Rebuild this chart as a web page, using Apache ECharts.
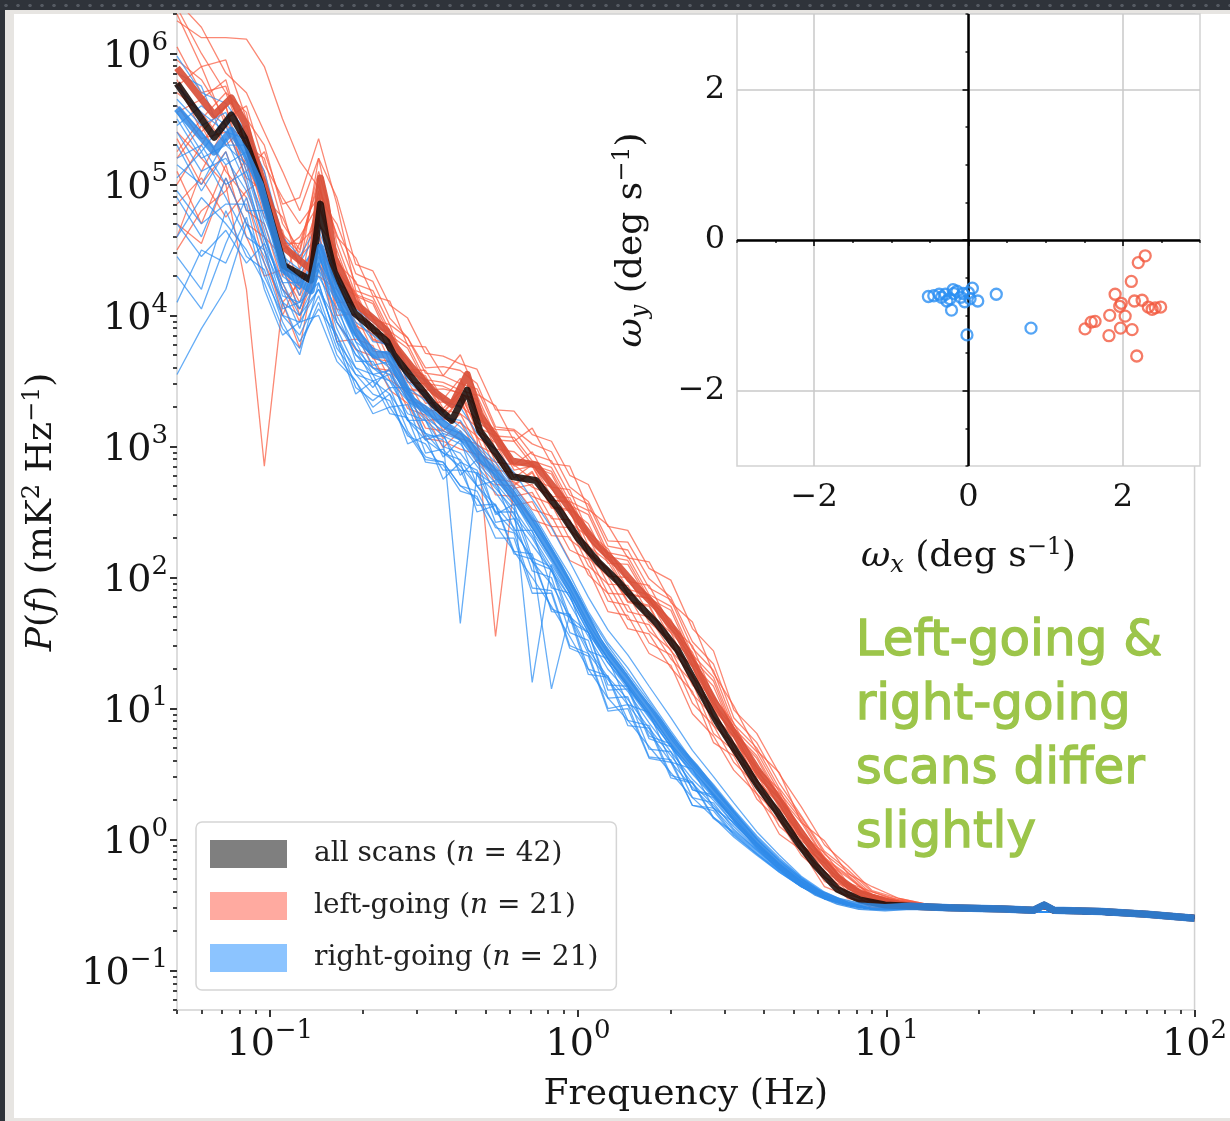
<!DOCTYPE html>
<html>
<head>
<meta charset="utf-8">
<script src="https://cdn.jsdelivr.net/npm/echarts@6/dist/echarts.min.js"></script>
<style>
html,body{margin:0;padding:0;width:1230px;height:1121px;overflow:hidden;background:#2f333a;}
#topband{position:absolute;left:0;top:0;width:1230px;height:11px;background-color:#2f333a;background-image:radial-gradient(circle,#555a62 1.4px,transparent 2px);background-size:12px 11px;}
#frame{position:absolute;left:5px;top:10px;width:1225px;height:1111px;background:#e7e5e2;}
#paper{position:absolute;left:14px;top:14px;width:1216px;height:1104px;background:#ffffff;}
#chart{position:absolute;left:0;top:0;width:1230px;height:1121px;}
</style>
</head>
<body>
<div id="topband"></div>
<div id="frame"></div>
<div id="paper"></div>
<div id="chart"></div>
<script>
// ---------------- DATA ----------------
// Frequencies (Hz) at which the individual scan spectra are sampled
const FREQ_SCAN = [0.05,0.06,0.072,0.084,0.096,0.11,0.125,0.144,0.165,0.19,0.216,0.245,0.28,0.32,0.365,0.415,0.47,0.54,0.62,0.71,0.82,0.94,1.08,1.25,1.45,1.7,2.0,2.35,2.75,3.2,3.8,4.5,5.3,6.3,7.5,9,11,14,25,100];

// Individual left-going scans: log10 P(f) [mK^2/Hz]
const LEFT_SCANS_LOG = [
[6.25,6.12,6.12,6.11,5.90,5.50,5.18,4.98,4.62, 4.24,4.19,3.93,3.83,3.56,3.54,3.48,3.44,3.13,3.12,2.94,2.89,2.63,2.56,2.24,2.21,1.92,1.83,1.46,1.29,0.88,0.70,0.39,0.17,-0.11,-0.25,-0.42,-0.46,-0.50,-0.52,-0.58],
[6.35,6.00,5.70,5.30,4.80,4.62,4.48,5.05,4.30, 4.18,3.90,3.88,3.59,3.54,3.29,3.42,3.18,3.11,2.85,2.88,2.62,2.61,2.32,2.18,1.91,1.87,1.61,1.43,1.04,0.85,0.52,0.35,0.04,-0.13,-0.34,-0.42,-0.48,-0.50,-0.52,-0.58],
[4.60,5.10,5.45,5.05,4.95,4.30,4.55,4.70,4.50, 4.11,3.82,3.78,3.44,3.43,3.21,3.37,3.07,2.98,2.71,2.81,2.54,2.52,2.19,2.07,1.82,1.79,1.48,1.33,0.94,0.79,0.45,0.28,-0.04,-0.18,-0.38,-0.43,-0.49,-0.50,-0.52,-0.58],
[5.40,5.20,5.00,4.20,2.85,4.10,4.25,4.60,4.05, 3.99,3.93,3.65,3.50,3.27,3.28,3.25,3.15,2.82,2.80,2.69,2.63,2.36,2.25,1.95,1.94,1.66,1.52,1.18,1.01,0.69,0.50,0.19,0.01,-0.25,-0.35,-0.47,-0.49,-0.50,-0.52,-0.58],
[6.30,5.90,5.95,5.50,5.30,4.80,4.35,5.20,4.55, 4.16,4.11,3.85,3.75,3.48,3.46,3.40,3.36,3.05,3.04,2.86,2.81,2.55,2.48,2.16,2.13,1.84,1.75,1.38,1.21,0.82,0.64,0.33,0.13,-0.15,-0.28,-0.44,-0.47,-0.50,-0.52,-0.58],
[4.50,4.80,4.95,5.20,4.60,4.45,4.00,4.40,4.15, 3.95,3.67,3.65,3.36,3.31,3.06,3.19,2.95,2.88,2.62,2.65,2.39,2.38,2.09,1.95,1.68,1.64,1.38,1.20,0.81,0.68,0.35,0.18,-0.08,-0.24,-0.42,-0.47,-0.50,-0.50,-0.52,-0.58],
[5.70,5.55,5.30,5.45,5.00,4.50,4.60,4.85,4.35, 4.16,3.87,3.83,3.49,3.48,3.26,3.42,3.12,3.03,2.76,2.86,2.59,2.57,2.24,2.12,1.87,1.84,1.53,1.38,0.99,0.82,0.48,0.31,-0.01,-0.15,-0.36,-0.42,-0.48,-0.50,-0.52,-0.58],
[5.95,5.80,5.50,5.60,5.15,4.90,4.70,4.90,4.70, 4.32,4.26,3.98,3.83,3.60,3.61,3.58,3.48,3.15,3.13,3.02,2.96,2.69,2.58,2.28,2.27,1.99,1.85,1.51,1.34,0.93,0.74,0.43,0.18,-0.09,-0.23,-0.40,-0.46,-0.50,-0.52,-0.58],
[5.20,5.45,5.10,4.90,4.40,4.10,3.75,4.50,3.80, 3.82,3.77,3.51,3.41,3.14,3.12,3.06,3.02,2.71,2.70,2.52,2.47,2.21,2.14,1.82,1.79,1.50,1.41,1.04,0.87,0.59,0.41,0.10,-0.04,-0.32,-0.40,-0.50,-0.50,-0.50,-0.52,-0.58],
[5.55,5.65,5.80,5.25,4.75,4.65,4.20,4.95,4.25, 4.15,3.87,3.85,3.56,3.51,3.26,3.39,3.15,3.08,2.82,2.85,2.59,2.58,2.29,2.15,1.88,1.84,1.58,1.40,1.01,0.82,0.49,0.32,0.02,-0.14,-0.35,-0.43,-0.48,-0.50,-0.52,-0.58],
[6.05,5.70,5.75,5.30,5.20,4.70,4.50,5.10,4.60, 4.44,4.15,4.11,3.77,3.76,3.54,3.70,3.40,3.31,3.04,3.14,2.87,2.85,2.52,2.40,2.15,2.12,1.81,1.66,1.27,1.02,0.68,0.51,0.13,-0.01,-0.26,-0.36,-0.45,-0.50,-0.52,-0.58],
[5.00,5.30,5.60,5.00,4.50,4.00,4.30,4.30,4.20, 3.92,3.86,3.58,3.43,3.20,3.21,3.18,3.08,2.75,2.73,2.62,2.56,2.29,2.18,1.88,1.87,1.59,1.45,1.11,0.94,0.65,0.46,0.15,-0.03,-0.29,-0.37,-0.48,-0.50,-0.50,-0.52,-0.58],
[5.80,5.40,5.60,5.10,5.25,4.85,4.90,5.35,4.85, 4.19,4.14,3.88,3.78,3.51,3.49,3.43,3.39,3.08,3.07,2.89,2.84,2.58,2.51,2.19,2.16,1.87,1.78,1.41,1.24,0.85,0.67,0.36,0.15,-0.14,-0.27,-0.43,-0.47,-0.50,-0.52,-0.58],
[5.35,5.00,5.25,4.80,4.70,4.25,3.95,4.65,4.00, 4.01,3.73,3.71,3.42,3.37,3.12,3.25,3.01,2.94,2.68,2.71,2.45,2.44,2.15,2.01,1.74,1.70,1.44,1.26,0.87,0.73,0.40,0.23,-0.05,-0.21,-0.40,-0.45,-0.49,-0.50,-0.52,-0.58],
[5.60,5.35,5.40,5.15,4.85,4.40,4.15,4.75,4.10, 4.10,3.81,3.77,3.43,3.42,3.20,3.36,3.06,1.55,2.70,2.80,2.53,2.51,2.18,2.06,1.81,1.78,1.47,1.32,0.93,0.78,0.44,0.27,-0.04,-0.18,-0.38,-0.43,-0.49,-0.50,-0.52,-0.58],
[4.85,5.05,4.75,4.95,5.05,4.60,4.40,4.85,4.45, 4.15,4.09,3.81,3.66,3.43,3.44,3.41,3.31,2.98,2.96,2.85,2.79,2.52,2.41,2.11,2.10,1.82,1.68,1.34,1.17,0.81,0.62,0.31,0.09,-0.17,-0.29,-0.43,-0.47,-0.50,-0.52,-0.58],
[6.40,6.20,5.85,5.70,5.40,5.10,4.80,5.20,4.90, 4.39,4.34,4.08,3.98,3.71,3.69,3.63,3.59,3.28,3.27,3.09,3.04,2.78,2.71,2.39,2.36,2.07,1.98,1.61,1.44,0.99,0.81,0.50,0.25,-0.04,-0.20,-0.39,-0.45,-0.50,-0.52,-0.58],
[5.10,4.70,5.15,4.60,4.30,4.35,4.10,4.55,4.30, 3.88,3.60,3.58,3.29,3.24,2.99,3.12,2.88,2.81,2.55,2.58,2.32,2.31,2.02,1.88,1.61,1.57,1.31,1.13,0.74,0.64,0.31,0.14,-0.12,-0.28,-0.45,-0.48,-0.50,-0.50,-0.52,-0.58],
[5.75,5.90,5.45,5.35,5.10,4.55,4.55,5.00,4.40, 4.26,3.97,3.93,3.59,3.58,3.36,3.52,3.22,3.13,2.86,2.96,2.69,2.67,2.34,2.22,1.97,1.94,1.63,1.48,1.09,0.89,0.55,0.38,0.04,-0.10,-0.33,-0.40,-0.47,-0.50,-0.52,-0.58],
[5.25,5.50,5.70,5.55,4.90,4.75,4.45,4.60,4.20, 4.05,3.99,3.71,3.56,3.33,3.34,3.31,3.21,2.88,2.86,2.75,2.69,2.42,2.31,2.01,2.00,1.72,1.58,1.24,1.07,0.74,0.55,0.24,0.04,-0.22,-0.33,-0.45,-0.48,-0.50,-0.52,-0.58],
[4.70,4.55,5.05,4.70,4.60,4.20,4.05,4.40,3.95, 3.74,3.69,3.43,3.33,3.06,3.04,2.98,2.94,2.63,2.62,2.44,2.39,2.13,2.06,1.74,1.71,1.42,1.33,0.96,0.79,0.53,0.35,0.04,-0.08,-0.36,-0.43,-0.52,-0.51,-0.50,-0.52,-0.58]
];

// Individual right-going scans: log10 P(f) [mK^2/Hz]
const RIGHT_SCANS_LOG = [
[3.55,3.90,4.20,4.70,4.45,4.10,4.00,4.20,3.95,3.70, 3.55,3.50,3.25,3.20,3.00,2.95,2.78,2.65,2.45,2.25, 2.05,1.80,1.55,1.30,1.13,0.89,0.67,0.46,0.30,0.12, -0.06,-0.21,-0.34,-0.44,-0.50,-0.53,-0.53,-0.53,-0.54,-0.60],
[5.98,5.70,5.62,5.40,5.10,4.60,4.45,4.70,4.35,4.05, 3.95,3.85,3.60,3.50,3.35,3.30,3.10,2.98,2.80,2.60, 2.38,2.12,1.85,1.60,1.41,1.17,0.93,0.68,0.48,0.28, 0.06,-0.12,-0.28,-0.40,-0.48,-0.53,-0.53,-0.53,-0.54,-0.60],
[4.30,4.05,4.55,4.90,4.50,4.20,3.90,4.35,3.90,3.60, 3.45,3.60,3.20,3.10,2.95,2.85,2.70,2.55,2.38,2.12, 1.95,1.70,1.42,1.22,1.03,0.82,0.59,0.40,0.24,0.07, -0.08,-0.23,-0.35,-0.45,-0.50,-0.53,-0.53,-0.53,-0.54,-0.60],
[5.40,5.10,5.20,4.95,4.60,4.25,4.00,4.30,4.05,3.75, 3.50,3.55,3.36,3.05,3.10,2.78,2.90,2.48,2.56,2.15, 2.08,1.70,1.58,1.18,1.17,0.79,0.73,0.38,0.34,0.14, -0.04,-0.20,-0.33,-0.43,-0.50,-0.53,-0.53,-0.53,-0.54,-0.60],
[5.20,5.30,5.00,5.10,4.65,4.15,4.10,4.40,4.00,3.70, 3.60,3.50,3.35,3.10,3.05,1.65,2.80,2.70,2.48,2.30, 2.05,1.85,1.58,1.35,1.15,0.93,0.71,0.50,0.32,0.15, -0.03,-0.19,-0.32,-0.43,-0.49,-0.53,-0.53,-0.53,-0.54,-0.60],
[5.50,5.20,5.30,5.15,4.70,4.30,4.20,4.50,4.15,3.80, 3.70,3.60,3.40,3.25,3.10,3.05,2.88,2.72,2.55,1.20, 2.10,1.88,1.60,1.38,1.17,0.95,0.71,0.52,0.34,0.16, -0.03,-0.19,-0.32,-0.43,-0.49,-0.53,-0.53,-0.53,-0.54,-0.60],
[4.90,4.60,5.05,4.70,4.40,4.00,3.95,4.20,3.85,3.55, 3.50,3.40,3.20,3.05,2.95,2.90,2.70,2.50,2.35,2.15, 1.15,1.72,1.45,1.24,1.07,0.85,0.64,0.43,0.26,0.10, -0.07,-0.22,-0.34,-0.44,-0.50,-0.53,-0.53,-0.53,-0.54,-0.60],
[5.75,5.55,5.40,5.35,5.00,4.45,4.35,4.55,4.25,3.95, 3.85,3.75,3.52,3.40,3.25,3.15,3.02,2.88,2.70,2.50, 2.25,2.02,1.74,1.50,1.31,1.07,0.83,0.60,0.42,0.23, 0.03,-0.14,-0.29,-0.41,-0.48,-0.53,-0.53,-0.53,-0.54,-0.60],
[4.60,4.90,4.70,4.50,4.25,3.90,3.75,4.10,3.70,3.50, 3.30,3.40,3.02,3.08,2.75,2.88,2.50,2.55,2.18,2.14, 1.76,1.70,1.26,1.24,0.87,0.85,0.47,0.43,0.16,0.05, -0.10,-0.24,-0.36,-0.45,-0.50,-0.53,-0.53,-0.53,-0.54,-0.60],
[5.30,4.95,5.25,4.80,4.80,4.35,4.05,4.40,4.10,3.65, 3.65,3.45,3.45,3.08,3.08,2.88,2.82,2.50,2.50,2.12, 2.06,1.66,1.58,1.14,1.15,0.77,0.71,0.38,0.32,0.12, -0.05,-0.21,-0.33,-0.44,-0.50,-0.53,-0.53,-0.53,-0.54,-0.60],
[5.60,5.40,5.15,5.25,4.90,4.50,4.15,4.45,4.15,3.85, 3.62,3.65,3.42,3.28,3.15,3.10,2.92,2.78,2.62,2.38, 2.15,1.92,1.65,1.42,1.23,1.01,0.77,0.56,0.38,0.20, 0.00,-0.16,-0.30,-0.42,-0.49,-0.53,-0.53,-0.53,-0.54,-0.60],
[5.05,5.25,4.90,4.60,4.50,4.05,4.10,4.25,3.80,3.60, 3.55,3.30,3.32,2.95,2.98,2.82,2.80,2.42,2.45,2.05, 2.00,1.58,1.52,1.08,1.09,0.69,0.67,0.32,0.28,0.08, -0.08,-0.22,-0.35,-0.44,-0.50,-0.53,-0.53,-0.53,-0.54,-0.60],
[5.65,5.45,5.55,5.10,4.75,4.40,4.30,4.60,4.20,3.90, 3.75,3.70,3.45,3.35,3.20,3.12,2.98,2.82,2.66,2.44, 2.20,1.96,1.70,1.44,1.25,1.03,0.79,0.58,0.39,0.21, 0.01,-0.16,-0.30,-0.42,-0.49,-0.53,-0.53,-0.53,-0.54,-0.60],
[4.95,4.70,4.85,4.85,4.30,4.00,3.85,4.15,3.75,3.55, 3.40,3.35,3.08,3.02,2.82,2.82,2.55,2.56,2.20,2.18, 1.74,1.72,1.30,1.25,0.91,0.87,0.49,0.44,0.17,0.06, -0.09,-0.23,-0.35,-0.45,-0.50,-0.53,-0.53,-0.53,-0.54,-0.60],
[5.45,5.60,5.45,5.05,4.55,4.25,4.25,4.35,4.10,3.80, 3.55,3.58,3.35,3.20,3.08,3.02,2.85,2.68,2.52,2.32, 2.08,1.85,1.58,1.35,1.17,0.94,0.71,0.51,0.33,0.16, -0.03,-0.19,-0.32,-0.43,-0.49,-0.53,-0.53,-0.53,-0.54,-0.60],
[4.70,4.45,4.65,4.40,4.55,4.10,3.80,4.05,3.85,3.45, 3.35,3.45,3.12,2.92,2.88,2.70,2.66,2.38,2.34,1.92, 1.90,1.48,1.42,1.00,1.03,0.63,0.61,0.26,0.24,0.04, -0.11,-0.24,-0.36,-0.45,-0.50,-0.53,-0.53,-0.53,-0.54,-0.60],
[5.85,5.75,5.30,5.30,4.95,4.55,4.40,4.65,4.30,4.00, 3.80,3.78,3.50,3.38,3.22,3.20,3.00,2.85,2.68,2.48, 2.22,1.98,1.72,1.48,1.27,1.05,0.81,0.59,0.40,0.22, 0.02,-0.15,-0.29,-0.41,-0.48,-0.53,-0.53,-0.53,-0.54,-0.60],
[4.10,4.50,4.40,4.75,4.20,3.85,3.95,4.00,3.65,3.50, 3.25,3.30,3.10,2.90,2.88,2.70,2.60,2.40,2.20,2.00, 1.78,1.55,1.30,1.08,0.91,0.71,0.51,0.32,0.17,0.02, -0.12,-0.25,-0.36,-0.45,-0.50,-0.53,-0.53,-0.53,-0.54,-0.60],
[5.15,5.00,5.35,5.00,4.60,4.20,4.05,4.50,3.95,3.75, 3.60,3.55,3.20,3.20,2.92,3.05,2.70,2.74,2.36,2.36, 1.92,1.88,1.44,1.38,1.03,0.97,0.59,0.54,0.24,0.13, -0.05,-0.20,-0.33,-0.44,-0.50,-0.53,-0.53,-0.53,-0.54,-0.60],
[5.55,5.25,5.50,5.20,4.85,4.35,4.20,4.55,4.10,3.85, 3.68,3.62,3.40,3.22,3.12,3.05,2.90,2.75,2.58,2.35, 2.12,1.88,1.62,1.38,1.19,0.97,0.73,0.53,0.35,0.18, -0.02,-0.18,-0.31,-0.43,-0.49,-0.53,-0.53,-0.53,-0.54,-0.60],
[4.45,4.20,4.80,4.45,4.35,3.95,3.70,4.25,3.80,3.40, 3.50,3.25,3.22,2.88,2.86,2.66,2.62,2.30,2.30,1.88, 1.88,1.46,1.40,0.98,1.00,0.62,0.59,0.26,0.22,0.03, -0.11,-0.25,-0.36,-0.45,-0.50,-0.53,-0.53,-0.53,-0.54,-0.60]
];

// Frequencies (Hz) of the averaged spectra
const FREQ_MEAN = [0.05,0.066,0.075,0.083,0.093,0.111,0.136,0.146,0.152,0.162, 0.188,0.218,0.24,0.252,0.29,0.34,0.39,0.437,0.48,0.54, 0.61,0.73,0.86,1.0,1.16,1.35,1.56,1.8,2.1,2.4, 2.82,3.3,3.83,4.4,5.15,5.9,6.95,8.2,9.9,12, 16,24,30,32.5,35,50,70,100];
// Averaged spectra: log10 P(f)
const ALL_MEAN_LOG = [5.77,5.36,5.53,5.35,5.02,4.38,4.27,4.85,4.60,4.33, 4.02,3.89,3.80,3.70,3.52,3.32,3.20,3.43,3.12,2.95, 2.77,2.74,2.53,2.30,2.12,1.97,1.80,1.65,1.45,1.20, 0.90,0.65,0.41,0.22,-0.02,-0.20,-0.38,-0.46,-0.50,-0.51, -0.52,-0.53,-0.54,-0.50,-0.54,-0.55,-0.57,-0.60];
const LEFT_MEAN_LOG = [5.89,5.53,5.66,5.47,5.09,4.52,4.35,5.05,4.87,4.44, 4.10,3.97,3.88,3.78,3.60,3.42,3.32,3.55,3.24,3.07, 2.89,2.86,2.65,2.44,2.24,2.09,1.92,1.77,1.57,1.32, 1.02,0.77,0.53,0.33,0.09,-0.10,-0.29,-0.41,-0.47,-0.51, -0.52,-0.53,-0.54,-0.50,-0.54,-0.55,-0.57,-0.60];
const RIGHT_MEAN_LOG = [5.58,5.25,5.41,5.25,5.00,4.35,4.19,4.52,4.38,4.22, 3.89,3.70,3.70,3.62,3.35,3.24,3.12,3.04,2.92,2.80, 2.64,2.38,2.10,1.82,1.52,1.31,1.10,0.92,0.70,0.55, 0.34,0.14,-0.04,-0.18,-0.31,-0.40,-0.47,-0.51,-0.52,-0.51, -0.52,-0.53,-0.54,-0.50,-0.54,-0.55,-0.57,-0.60];

// Inset: scan angular velocities (deg/s)
const LEFT_OMEGA_X = [2.29,2.20,2.11,1.90,1.98,2.15,2.25,2.33,2.49,2.38,1.83,2.03,1.64,1.59,1.51,1.82,1.97,2.12,2.18,1.96,2.42];
const LEFT_OMEGA_Y = [-0.21,-0.30,-0.55,-0.72,-0.84,-0.81,-0.80,-0.89,-0.89,-0.92,-1.00,-1.01,-1.08,-1.09,-1.18,-1.27,-1.17,-1.19,-1.54,-0.88,-0.90];
const RIGHT_OMEGA_X = [-0.52,-0.38,-0.28,-0.20,-0.19,-0.07,0.05,-0.05,0.12,-0.22,0.36,-0.02,0.81,-0.45,-0.30,-0.15,-0.10,0.00,-0.24,0.02,-0.35];
const RIGHT_OMEGA_Y = [-0.75,-0.72,-0.81,-0.66,-0.71,-0.71,-0.64,-0.82,-0.81,-0.93,-0.72,-1.26,-1.17,-0.74,-0.72,-0.68,-0.76,-0.70,-0.78,-0.78,-0.76];

// Ticks
const FREQ_TICKS = [0.1, 1, 10, 100];
const POWER_TICKS = [0.1, 1, 10, 100, 1e3, 1e4, 1e5, 1e6];
const OMEGA_TICKS = [-2, 0, 2];
const OMEGA_MINOR_TICKS = [-3, -2.5, -1.5, -1, -0.5, 0.5, 1, 1.5, 2.5, 3];
const MINOR_MANTISSAS = [2, 3, 4, 5, 6, 7, 8, 9];
const LEGEND_LABELS = ['all scans', 'left-going', 'right-going'];
const LEGEND_COUNTS = [42, 21, 21];
const NOTE_LINES = ['Left-going &', 'right-going', 'scans differ', 'slightly'];

// ---------------- helpers ----------------
function minorTicks(lo, hi) {
  const out = [];
  for (let d = -3; d <= 7; d++) {
    MINOR_MANTISSAS.forEach(m => {
      const v = m * Math.pow(10, d);
      if (v >= lo * 0.999 && v <= hi * 1.001) out.push(v);
    });
  }
  return out;
}
const toPairs = (freqs, logs) => freqs.map((f, i) => [f, Math.pow(10, logs[i])]);
const zip = (xs, ys) => xs.map((x, i) => [x, ys[i]]);

const SERIF = '"DejaVu Serif", "Liberation Serif", serif';
const INK = '#151515';
function powLabel(v) {
  const e = Math.round(Math.log10(v));
  return '{b|10}{s|' + (e < 0 ? '\u2212' + (-e) : String(e)) + '}';
}
const powRich = {
  b: { fontFamily: SERIF, fontSize: 38, color: INK, lineHeight: 46, verticalAlign: 'bottom' },
  s: { fontFamily: SERIF, fontSize: 26, color: INK, lineHeight: 26, verticalAlign: 'top' }
};
const nameRich = (size) => ({
  i: { fontFamily: SERIF, fontStyle: 'italic', fontSize: size, color: INK, lineHeight: size + 6 },
  sup: { fontFamily: SERIF, fontSize: Math.round(size * 0.68), color: INK, lineHeight: Math.round(size * 0.62), verticalAlign: 'top' },
  sub: { fontFamily: SERIF, fontStyle: 'italic', fontSize: Math.round(size * 0.68), color: INK, lineHeight: Math.round(size * 0.62), verticalAlign: 'bottom' }
});

// ---------------- series ----------------
const series = [];
LEFT_SCANS_LOG.forEach(arr => series.push({
  type: 'line', name: 'left-going', xAxisIndex: 0, yAxisIndex: 0,
  data: toPairs(FREQ_SCAN, arr), symbol: 'none', silent: true, z: 2,
  lineStyle: { color: '#f95a3e', width: 1.3, opacity: 0.72 }
}));
RIGHT_SCANS_LOG.forEach(arr => series.push({
  type: 'line', name: 'right-going', xAxisIndex: 0, yAxisIndex: 0,
  data: toPairs(FREQ_SCAN, arr), symbol: 'none', silent: true, z: 2,
  lineStyle: { color: '#2b8ef2', width: 1.3, opacity: 0.72 }
}));
series.push({
  type: 'line', name: 'left-going', xAxisIndex: 0, yAxisIndex: 0,
  data: toPairs(FREQ_MEAN, LEFT_MEAN_LOG), symbol: 'none', silent: true, z: 3,
  lineStyle: { color: '#d9503a', width: 7, opacity: 0.92, join: 'round' }
});
series.push({
  type: 'line', name: 'all scans', xAxisIndex: 0, yAxisIndex: 0,
  data: toPairs(FREQ_MEAN, ALL_MEAN_LOG), symbol: 'none', silent: true, z: 4,
  lineStyle: { color: '#1a0b08', width: 7, opacity: 0.88, join: 'round' }
});
series.push({
  type: 'line', name: 'right-going', xAxisIndex: 0, yAxisIndex: 0,
  data: toPairs(FREQ_MEAN, RIGHT_MEAN_LOG), symbol: 'none', silent: true, z: 5,
  lineStyle: { color: '#2f8ae8', width: 7.5, opacity: 0.85, join: 'round' }
});
series.push({
  type: 'scatter', name: 'right-going', xAxisIndex: 2, yAxisIndex: 2,
  data: zip(RIGHT_OMEGA_X, RIGHT_OMEGA_Y), symbol: 'circle', symbolSize: 11, silent: true, z: 6,
  itemStyle: { color: 'rgba(255,255,255,0)', borderColor: '#2b8ef2', borderWidth: 2.3 },
  markLine: {
    silent: true, symbol: ['none', 'none'], label: { show: false }, animation: false,
    lineStyle: { color: '#000', width: 2.5, type: 'solid' },
    data: [{ xAxis: 0 }, { yAxis: 0 }]
  }
});
series.push({
  type: 'scatter', name: 'left-going', xAxisIndex: 2, yAxisIndex: 2,
  data: zip(LEFT_OMEGA_X, LEFT_OMEGA_Y), symbol: 'circle', symbolSize: 11, silent: true, z: 6,
  itemStyle: { color: 'rgba(255,255,255,0)', borderColor: '#f25a40', borderWidth: 2.3 }
});

// ---------------- chart ----------------
const chart = echarts.init(document.getElementById('chart'), null, { renderer: 'canvas', width: 1230, height: 1121 });
const legendColors = ['#7f7f7f', '#ffaaa0', '#8cc4ff'];
const option = {
  animation: false,
  grid: [
    { left: 177, top: 14, width: 1023, height: 996, show: true, borderColor: '#d2d2d2', borderWidth: 1.5, backgroundColor: 'rgba(0,0,0,0)' },
    { left: 737, top: 14, width: 463, height: 452, show: true, borderColor: '#d2d2d2', borderWidth: 1.5, backgroundColor: '#ffffff' }
  ],
  xAxis: [
    { type: 'log', logBase: 10, gridIndex: 0, position: 'bottom', min: 0.05, max: 100,
      axisLine: { show: false },
      axisTick: { show: true, customValues: FREQ_TICKS, length: 7, lineStyle: { color: '#333', width: 2 } },
      axisLabel: { customValues: FREQ_TICKS, formatter: powLabel, rich: powRich, margin: 8 },
      splitLine: { show: false },
      name: 'Frequency (Hz)', nameLocation: 'middle', nameGap: 64,
      nameTextStyle: { fontFamily: SERIF, fontSize: 36, color: INK, lineHeight: 42 } },
    { type: 'log', logBase: 10, gridIndex: 0, position: 'bottom', min: 0.05, max: 100,
      axisLine: { show: false },
      axisTick: { show: true, customValues: minorTicks(0.05, 100), length: 4, lineStyle: { color: '#444', width: 2 } },
      axisLabel: { show: false }, splitLine: { show: false } },
    { type: 'value', gridIndex: 1, position: 'bottom', min: -3, max: 3,
      axisLine: { show: false },
      axisTick: { show: true, customValues: OMEGA_TICKS, length: 6, lineStyle: { color: '#333', width: 2 } },
      axisLabel: { customValues: OMEGA_TICKS, formatter: v => (v < 0 ? '\u2212' + (-v) : String(v)),
        fontFamily: SERIF, fontSize: 32, color: INK, margin: 16 },
      splitLine: { show: true, lineStyle: { color: '#c9c9c9', width: 1.5 } },
      name: '{i|\u03c9}{sub|x} (deg s{sup|\u22121})', nameLocation: 'middle', nameGap: 70,
      nameTextStyle: { fontFamily: SERIF, fontSize: 36, color: INK, lineHeight: 42, rich: nameRich(36) } },
    { type: 'value', gridIndex: 1, position: 'bottom', min: -3, max: 3,
      axisLine: { show: false },
      axisTick: { show: true, customValues: OMEGA_MINOR_TICKS, length: 3, lineStyle: { color: '#555', width: 2 } },
      axisLabel: { show: false }, splitLine: { show: false } }
  ],
  yAxis: [
    { type: 'log', logBase: 10, gridIndex: 0, position: 'left', min: 0.05, max: 2e6,
      axisLine: { show: false },
      axisTick: { show: true, customValues: POWER_TICKS, length: 7, lineStyle: { color: '#333', width: 2 } },
      axisLabel: { customValues: POWER_TICKS, formatter: powLabel, rich: powRich, margin: 9 },
      splitLine: { show: false },
      name: '{i|P}({i|f}) (mK{sup|2} Hz{sup|\u22121})', nameLocation: 'middle', nameGap: 114,
      nameTextStyle: { fontFamily: SERIF, fontSize: 36, color: INK, lineHeight: 42, rich: nameRich(36) } },
    { type: 'log', logBase: 10, gridIndex: 0, position: 'left', min: 0.05, max: 2e6,
      axisLine: { show: false },
      axisTick: { show: true, customValues: minorTicks(0.05, 2e6), length: 4, lineStyle: { color: '#444', width: 2 } },
      axisLabel: { show: false }, splitLine: { show: false } },
    { type: 'value', gridIndex: 1, position: 'left', min: -3, max: 3,
      axisLine: { show: false },
      axisTick: { show: true, customValues: OMEGA_TICKS, length: 6, lineStyle: { color: '#333', width: 2 } },
      axisLabel: { customValues: OMEGA_TICKS, formatter: v => (v < 0 ? '\u2212' + (-v) : String(v)),
        fontFamily: SERIF, fontSize: 32, color: INK, margin: 12 },
      splitLine: { show: true, lineStyle: { color: '#c9c9c9', width: 1.5 } },
      name: '{i|\u03c9}{sub|y} (deg s{sup|\u22121})', nameLocation: 'middle', nameGap: 84,
      nameTextStyle: { fontFamily: SERIF, fontSize: 36, color: INK, lineHeight: 42, rich: nameRich(36) } },
    { type: 'value', gridIndex: 1, position: 'left', min: -3, max: 3,
      axisLine: { show: false },
      axisTick: { show: true, customValues: OMEGA_MINOR_TICKS, length: 3, lineStyle: { color: '#555', width: 2 } },
      axisLabel: { show: false }, splitLine: { show: false } }
  ],
  legend: {
    orient: 'vertical', left: 196, top: 822,
    padding: [14, 18, 14, 14], itemGap: 16, itemWidth: 77, itemHeight: 28,
    backgroundColor: '#ffffff', borderColor: '#d5d5d5', borderWidth: 1.5, borderRadius: 6,
    selectedMode: false,
    data: LEGEND_LABELS.map((n, k) => ({ name: n, icon: 'rect', itemStyle: { color: legendColors[k], borderWidth: 0, opacity: 1 } })),
    formatter: name => '{g|}' + name + ' ({i|n} = ' + LEGEND_COUNTS[LEGEND_LABELS.indexOf(name)] + ')',
    textStyle: { fontFamily: SERIF, fontSize: 28, color: '#222', lineHeight: 36,
      rich: { g: { width: 22 }, i: { fontFamily: SERIF, fontStyle: 'italic', fontSize: 28, color: '#222' } } }
  },
  graphic: [{
    type: 'text', left: 855, top: 610, z: 100, silent: true,
    style: { text: NOTE_LINES.join('\n'), fontFamily: '"DejaVu Sans", sans-serif', fontSize: 50,
      fill: '#9cc54a', stroke: '#9cc54a', lineWidth: 1.3, lineHeight: 64 }
  }],
  series: series
};
chart.setOption(option);
</script>
</body>
</html>
